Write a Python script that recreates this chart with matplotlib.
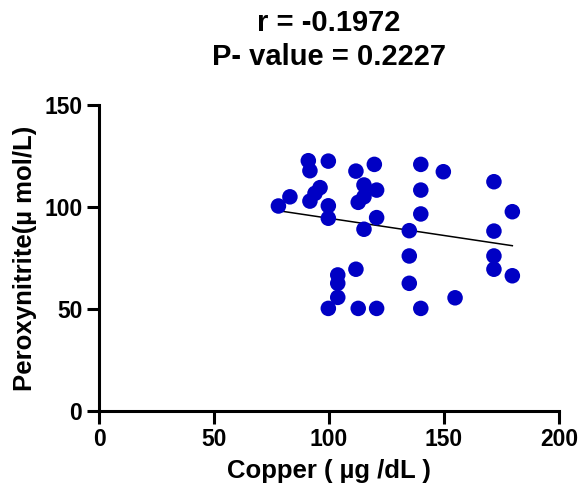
import numpy as np
import matplotlib.pyplot as plt

plt.rcParams['font.family'] = ['Liberation Sans', 'DejaVu Sans']
plt.rcParams['font.weight'] = 'bold'

# Copper (ug/dL) vs peroxynitrite (umol/L)
copper = [91.0, 91.7, 99.7, 111.7, 119.7, 83.0, 78.0, 96.1, 93.9, 91.7,
          99.7, 99.7, 115.2, 120.7, 115.2, 112.7, 120.7, 115.2, 111.7, 103.8,
          103.8, 103.8, 99.7, 112.7, 120.7, 139.9, 149.7, 139.9, 139.9, 134.9,
          134.9, 134.9, 139.9, 154.8, 171.7, 179.7, 171.7, 171.7, 171.7, 179.7]
peroxynitrite = [122.7, 117.8, 122.5, 117.6, 120.9, 105.0, 100.5, 109.5, 106.7, 102.9,
                 100.6, 94.5, 110.8, 108.3, 105.0, 102.3, 94.8, 89.1, 69.5, 66.7,
                 62.6, 55.7, 50.3, 50.3, 50.3, 120.9, 117.3, 108.3, 96.6, 88.4,
                 76.0, 62.6, 50.3, 55.5, 112.4, 97.7, 88.2, 76.0, 69.5, 66.3]

r_text = 'r = -0.1972'
p_text = 'P- value = 0.2227'

x = np.array(copper)
y = np.array(peroxynitrite)
slope, intercept = np.polyfit(x, y, 1)
xf = np.array([x.min(), x.max()])

fig = plt.figure(figsize=(5.79, 4.94), dpi=100)
ax = fig.add_axes([0.171, 0.168, 0.7945, 0.6194])

ax.scatter(x, y, s=125, color='#0000C4', edgecolors='none', zorder=3, clip_on=False)
ax.plot(xf, slope * xf + intercept, color='black', lw=1.1, zorder=2)

ax.set_xlim(0, 200)
ax.set_ylim(0, 150)
ax.set_xticks([0, 50, 100, 150, 200])
ax.set_yticks([0, 50, 100, 150])

for s in ('top', 'right'):
    ax.spines[s].set_visible(False)
for s in ('left', 'bottom'):
    ax.spines[s].set_linewidth(2.2)
ax.tick_params(width=2.2, length=9, labelsize=16.5, pad=3)
for lab in ax.get_xticklabels() + ax.get_yticklabels():
    lab.set_fontweight('bold')

ax.set_xlabel('Copper ( µg /dL )', fontsize=18.5, fontweight='bold', labelpad=6)
ax.set_ylabel('Peroxynitrite(µ mol/L)', fontsize=18.5, fontweight='bold', labelpad=5)
ax.set_title(r_text + '\n' + p_text, fontsize=21, fontweight='bold', pad=29, linespacing=1.25)

fig.savefig('out.png', dpi=100)
